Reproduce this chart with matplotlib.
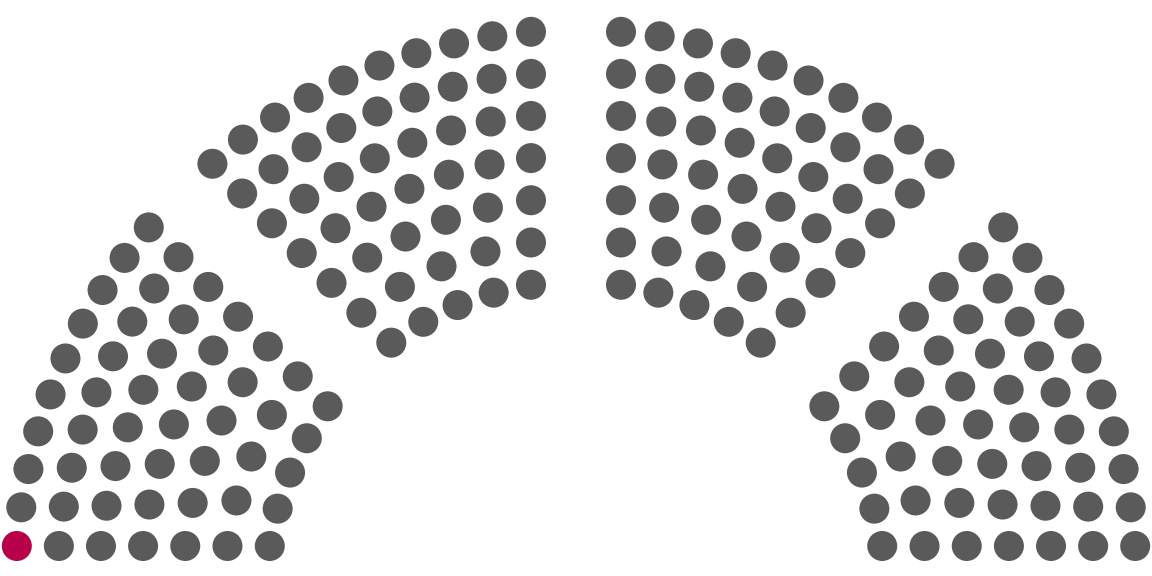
import numpy as np
import matplotlib
matplotlib.use("Agg")
import matplotlib.pyplot as plt
from matplotlib.patches import Circle

# ---- data ----
party_names = ["Party A", "Others"]
party_seats = [1, 199]
party_colors = ["#b8004b", "#5a5a5a"]

# seats in each ring (outer -> inner) of every one of the 4 wedges
ring_counts = [10, 9, 8, 7, 6, 5, 5]
n_wedges = 4

# ---- layout (pixels of a 1152x576 canvas) ----
W, H = 1152, 576
cx, cy = 576.0, 591.0        # centre of the rings
gap_half = 45.0              # half-gap between wedges
r_outer, r_inner = 561.0, 309.5
dot_r = 15.0

radii = np.linspace(r_outer, r_inner, len(ring_counts))
wedge_span = 180.0 / n_wedges

slots = []  # (angle_deg, radius)
for k in range(n_wedges):
    a_hi = 180.0 - wedge_span * k
    a_lo = 180.0 - wedge_span * (k + 1)
    for r, n in zip(radii, ring_counts):
        off = np.degrees(np.arcsin(gap_half / r))
        angs = np.linspace(a_hi - off, a_lo + off, n)
        for a in angs:
            slots.append((a, r))

slots.sort(key=lambda s: (-s[0], -s[1]))

colors = []
for c, s in zip(party_colors, party_seats):
    colors += [c] * s

fig = plt.figure(figsize=(W / 100, H / 100), dpi=100)
ax = fig.add_axes([0, 0, 1, 1])
ax.set_xlim(0, W)
ax.set_ylim(H, 0)
ax.set_aspect("equal")
ax.axis("off")

for (a, r), col in zip(slots, colors):
    t = np.radians(a)
    x = cx + r * np.cos(t)
    y = cy - r * np.sin(t)
    ax.add_patch(Circle((x, y), dot_r, facecolor=col, edgecolor="none"))

fig.savefig("out.png", dpi=100, facecolor="white")
